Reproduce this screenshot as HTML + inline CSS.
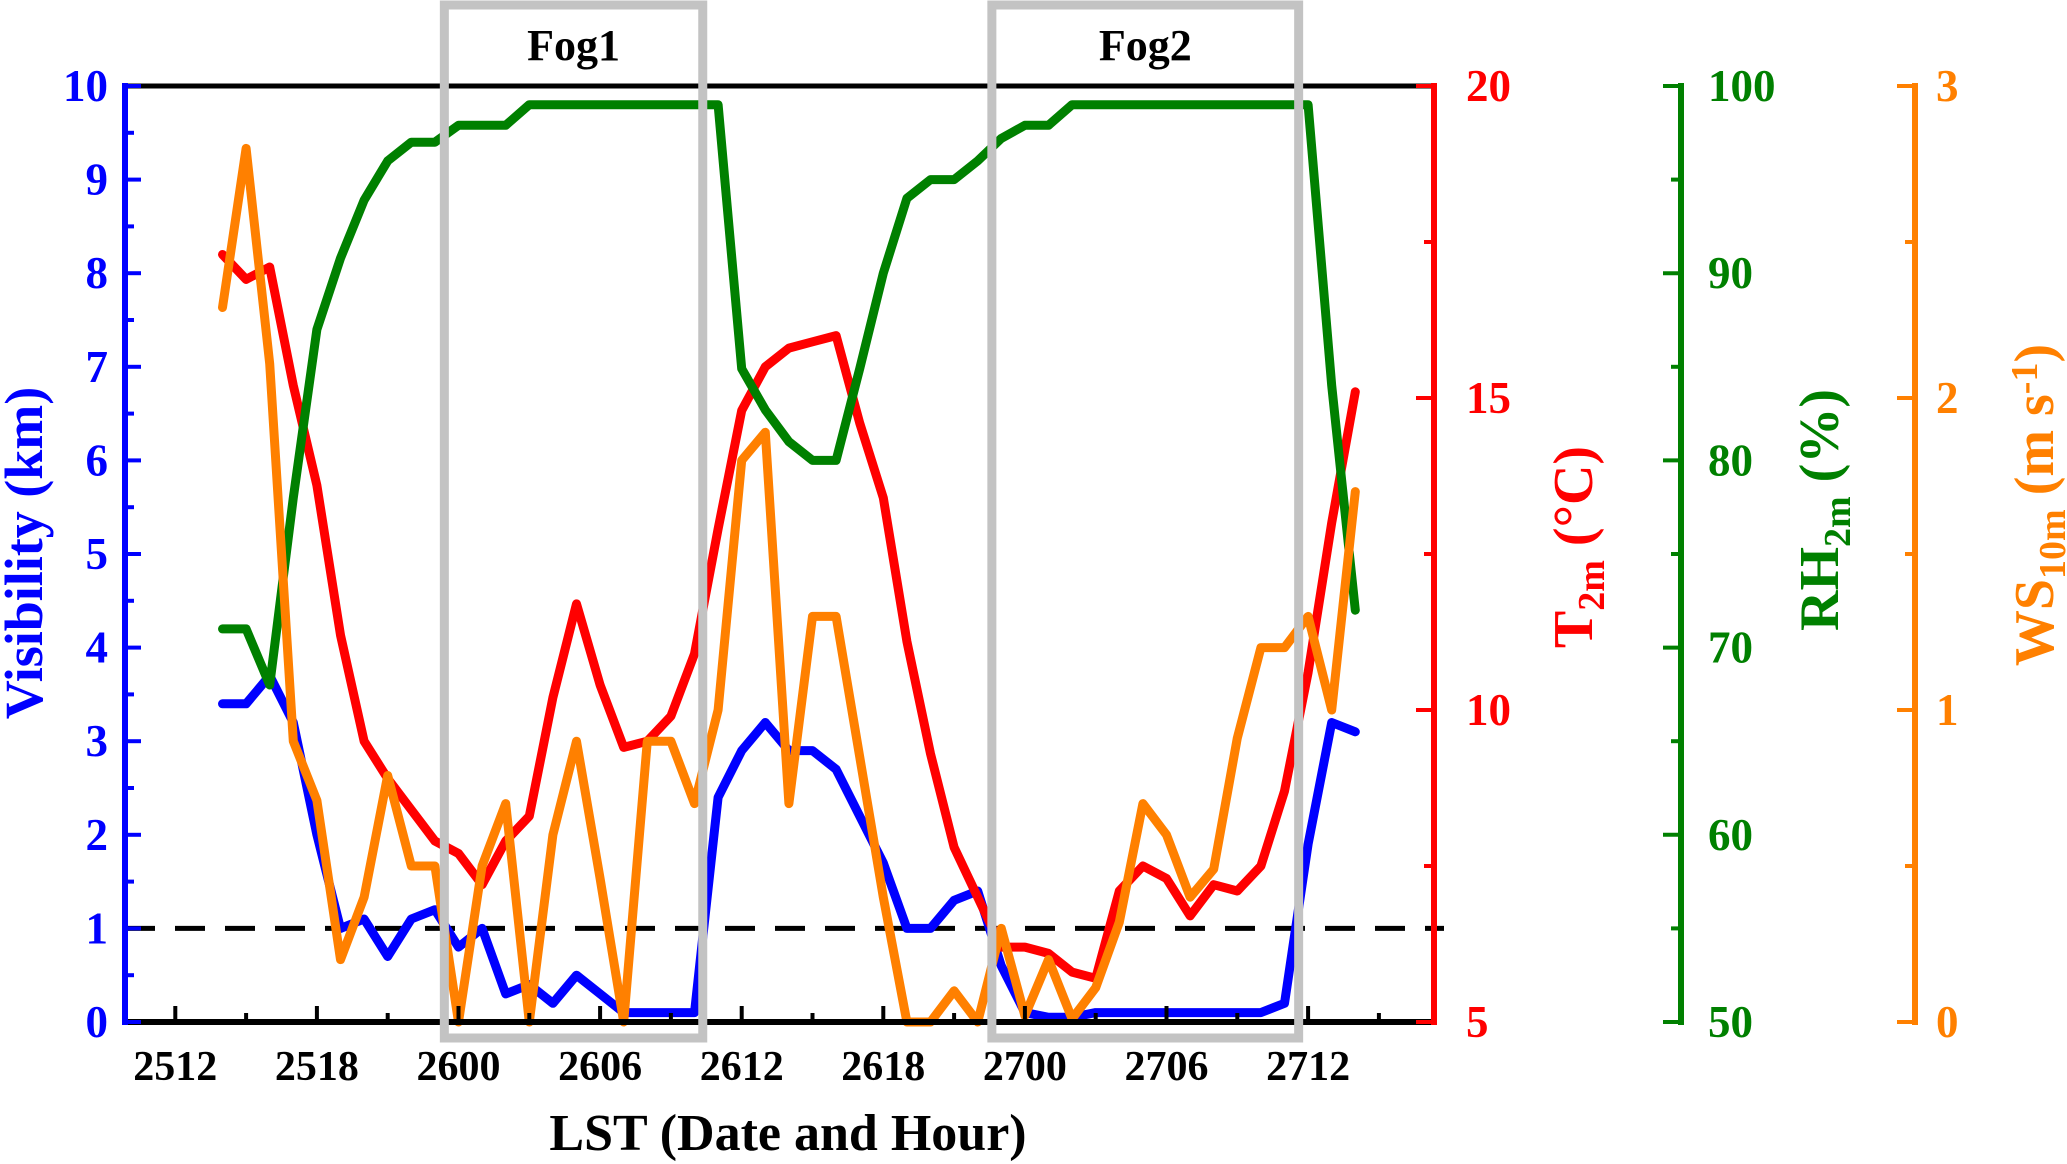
<!DOCTYPE html>
<html><head><meta charset="utf-8"><style>
html,body{margin:0;padding:0;background:#fff;}
svg{display:block;font-family:"Liberation Serif",serif;font-weight:bold;}
</style></head><body>
<svg id="chart" width="2067" height="1164" viewBox="0 0 2067 1164" xmlns="http://www.w3.org/2000/svg"></svg>
<script>
const xTickLabels = ["2512","2518","2600","2606","2612","2618","2700","2706","2712"];
const visTicks = [0,1,2,3,4,5,6,7,8,9,10];
const tTicks = [5,10,15,20];
const rhTicks = [50,60,70,80,90,100];
const wsTicks = [0,1,2,3];
const startIndex = 2;
const visibility = [3.4,3.4,3.7,3.2,2.0,1.0,1.1,0.7,1.1,1.2,0.8,1.0,0.3,0.4,0.2,0.5,0.3,0.1,0.1,0.1,0.1,2.4,2.9,3.2,2.9,2.9,2.7,2.2,1.7,1.0,1.0,1.3,1.4,0.6,0.1,0.05,0.05,0.1,0.1,0.1,0.1,0.1,0.1,0.1,0.1,0.2,1.9,3.2,3.1];
const temperature = [17.3,16.9,17.1,15.2,13.6,11.2,9.5,8.9,8.4,7.9,7.7,7.2,7.9,8.3,10.2,11.7,10.4,9.4,9.5,9.9,10.9,12.9,14.8,15.5,15.8,15.9,16.0,14.6,13.4,11.1,9.3,7.8,7.0,6.2,6.2,6.1,5.8,5.7,7.1,7.5,7.3,6.7,7.2,7.1,7.5,8.7,10.6,13.0,15.1];
const humidity = [71,71,68,78,87,90.8,93.9,96,97,97,97.9,97.9,97.9,99,99,99,99,99,99,99,99,99,84.9,82.7,81,80,80,84.9,90,94,95,95,96,97.2,97.9,97.9,99,99,99,99,99,99,99,99,99,99,99,84,72];
const windSpeed = [2.29,2.8,2.11,0.9,0.71,0.2,0.4,0.79,0.5,0.5,0,0.5,0.7,0,0.6,0.9,0.46,0,0.9,0.9,0.7,1.0,1.8,1.89,0.7,1.3,1.3,0.85,0.4,0,0,0.1,0,0.3,0.02,0.2,0.01,0.11,0.32,0.7,0.6,0.4,0.49,0.91,1.2,1.2,1.3,1.0,1.7];
const fogRanges = [[11.4,22.35],[34.6,47.6]];
const fogLabels = ["Fog1","Fog2"];

const svg = document.getElementById('chart');
const NS = 'http://www.w3.org/2000/svg';
const L=125, R=1434, T=86, B=1022;
const x = i => 175.3 + i*23.6;
const yV = v => B - (v/10)*(B-T);
const yT = v => B - ((v-5)/15)*(B-T);
const yRH = v => B - ((v-50)/50)*(B-T);
const yWS = v => B - (v/3)*(B-T);
function mk(tag, attrs, parent){const e=document.createElementNS(NS,tag);for(const k in attrs)e.setAttribute(k,attrs[k]);(parent||svg).appendChild(e);return e;}
function txt(s, attrs){const e=mk('text',attrs);e.textContent=s;return e;}

let e = mk('line',{x1:L,y1:T,x2:R,y2:T,stroke:'#000','stroke-width':5});


e = mk('line',{x1:L,y1:yV(1),x2:R+10,y2:yV(1),stroke:'#000','stroke-width':5,'stroke-dasharray':'30 20'});



function series(vals, yf, color, name){
  const pts = vals.map((v,k)=>x(startIndex+k).toFixed(1)+','+yf(v).toFixed(1)).join(' ');
  const p = mk('polyline',{points:pts,fill:'none',stroke:color,'stroke-width':9,'stroke-linejoin':'round','stroke-linecap':'round'});
  
  
}
series(visibility,yV,'#0000ff','visibility-line');
series(temperature,yT,'#ff0000','temperature-line');
series(humidity,yRH,'#008000','humidity-line');
series(windSpeed,yWS,'#ff8000','wind-speed-line');

e = mk('line',{x1:L,y1:B,x2:R,y2:B,stroke:'#000','stroke-width':6});


for(let i=0;i<=51;i+=3){
  const major = i%6===0;
  e = mk('line',{x1:x(i),y1:B,x2:x(i),y2:B-(major?16:9),stroke:'#000','stroke-width':4});
  
  
}
xTickLabels.forEach((s,k)=>{
  e = txt(s,{x:x(k*6),y:1080,'text-anchor':'middle','font-size':42,fill:'#000'});
  
  
});
e = txt('LST (Date and Hour)',{x:788,y:1150,'text-anchor':'middle','font-size':52,fill:'#000'});



e = mk('line',{x1:L,y1:T-3,x2:L,y2:B+3,stroke:'#0000ff','stroke-width':6});


for(let v=0;v<=10;v+=0.5){
  e = mk('line',{x1:L,y1:yV(v),x2:L+(v%1===0?16:9),y2:yV(v),stroke:'#0000ff','stroke-width':4});
  
  
}
visTicks.forEach(v=>{
  e = txt(String(v),{x:108,y:yV(v)+15,'text-anchor':'end','font-size':45,fill:'#0000ff'});
  
  
});
e = txt('Visibility (km)',{x:0,y:0,'text-anchor':'middle','font-size':54,fill:'#0000ff',transform:'translate(42,553) rotate(-90)'});



function rightAxis(ax, ticks, minorStep, yf, color, labelX, name){
  e = mk('line',{x1:ax,y1:T-3,x2:ax,y2:B+3,stroke:color,'stroke-width':6});
  
  
  const lo=ticks[0], hi=ticks[ticks.length-1];
  for(let v=lo; v<=hi+1e-9; v+=minorStep){
    const major = ticks.some(t=>Math.abs(t-v)<1e-6);
    e = mk('line',{x1:ax,y1:yf(v),x2:ax-(major?18:10),y2:yf(v),stroke:color,'stroke-width':4});
    
    
  }
  ticks.forEach(v=>{
    e = txt(String(v),{x:labelX,y:yf(v)+15,'text-anchor':'start','font-size':45,fill:color});
    
    
  });
}
rightAxis(R,tTicks,2.5,yT,'#ff0000',1466,'temperature');
rightAxis(1681,rhTicks,5,yRH,'#008000',1708,'humidity');
rightAxis(1915,wsTicks,0.5,yWS,'#ff8000',1936,'wind-speed');

function vtitle(cx, cy, color, parts, name){
  const t = mk('text',{x:0,y:0,'text-anchor':'middle',fill:color,transform:`translate(${cx},${cy}) rotate(-90)`});
  
  
  parts.forEach(p=>{const s=mk('tspan',{'font-size':p[2],dy:p[1]},t);s.textContent=p[0];});
}
vtitle(1592,547,'#ff0000',[['T',0,56],['2m',12,38],[' (°C)',-12,56]],'temperature-axis-title');
vtitle(1838,510,'#008000',[['RH',0,56],['2m',12,38],[' (%)',-12,56]],'humidity-axis-title');
vtitle(2053,505,'#ff8000',[['WS',0,56],['10m',12,38],[' (m s',-12,56],['-1',-16,38],[')',16,56]],'wind-speed-axis-title');

fogRanges.forEach((r,k)=>{
  e = mk('rect',{x:x(r[0]),y:5,width:x(r[1])-x(r[0]),height:1033,fill:'none',stroke:'#c3c3c3','stroke-width':9});
  
  
  e = txt(fogLabels[k],{x:(x(r[0])+x(r[1]))/2,y:60,'text-anchor':'middle','font-size':44,fill:'#000'});
  
  
});
</script>
</body></html>
